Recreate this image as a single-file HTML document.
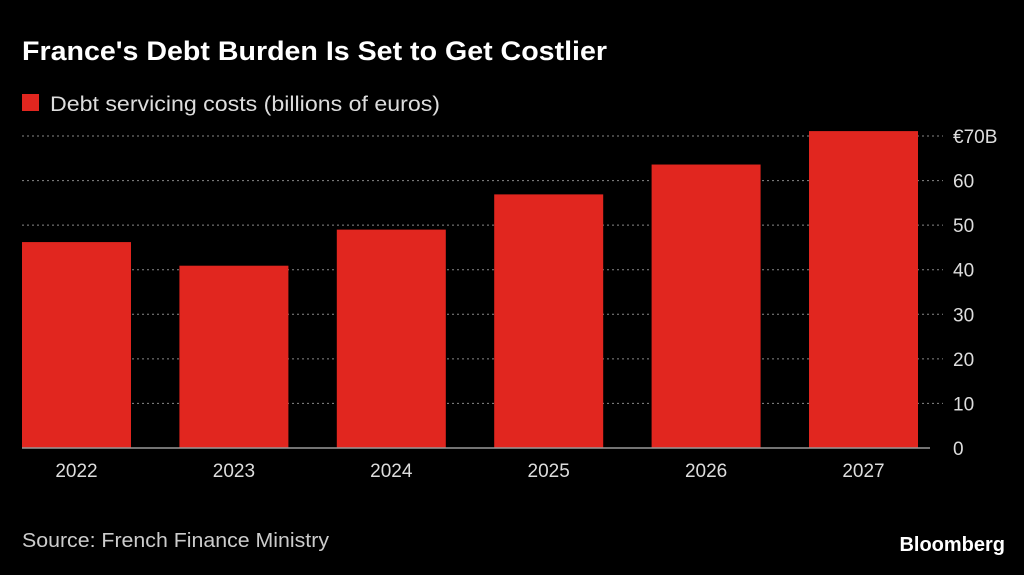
<!DOCTYPE html>
<html><head><meta charset="utf-8"><style>
body{margin:0;background:#000;width:1024px;height:570px;overflow:hidden;font-family:"Liberation Sans",sans-serif;}
</style></head><body>
<svg width="1024" height="570">
<text x="22" y="60" fill="#fff" font-size="27" font-weight="bold" textLength="585" lengthAdjust="spacingAndGlyphs">France's Debt Burden Is Set to Get Costlier</text>
<rect x="22" y="94" width="17" height="17" fill="#e1261f"/>
<text x="50" y="111" fill="#ddd" font-size="21" textLength="390" lengthAdjust="spacingAndGlyphs">Debt servicing costs (billions of euros)</text>
<g id="grid"></g><g id="bars"></g><g id="labels"></g>
<text x="22" y="547" fill="#ccc" font-size="20" textLength="307" lengthAdjust="spacingAndGlyphs">Source: French Finance Ministry</text>
<text x="1005" y="551" fill="#fff" font-size="20" font-weight="bold" text-anchor="end">Bloomberg</text>
</svg>
<script>
const categories=["2022","2023","2024","2025","2026","2027"];
const values=[46.2,40.9,49.0,56.9,63.6,71.1];
const yTicks=[0,10,20,30,40,50,60,70];
const yTickLabels=["0","10","20","30","40","50","60","€70B"];
const NS="http://www.w3.org/2000/svg";
const y=v=>448-v*(312/70);
const x=i=>22+i*157.4;
const bw=109;
function mk(t,a,p){const e=document.createElementNS(NS,t);for(const k in a)e.setAttribute(k,a[k]);document.getElementById(p).appendChild(e);return e;}
yTicks.forEach((t,i)=>{
  if(t>0){const l=mk('line',{x1:22,x2:943,y1:y(t),y2:y(t),stroke:'#888','stroke-dasharray':'2,3','stroke-width':1},'grid');
  
  }
  const tx=mk('text',{x:953,y:y(t)+7,fill:'#ddd','font-size':19},'labels');
  tx.textContent=yTickLabels[i];
  
  
});
categories.forEach((c,i)=>{
  const r=mk('rect',{x:x(i),y:y(values[i]),width:bw,height:448-y(values[i]),fill:'#e1261f'},'bars');
  
  
  const t=mk('text',{x:x(i)+bw/2,y:477,fill:'#ddd','font-size':19,'text-anchor':'middle'},'labels');
  t.textContent=c;
  
  
});
const b=mk('line',{x1:22,x2:930,y1:448,y2:448,stroke:'#999','stroke-width':1.5},'labels');


</script>
</body></html>
